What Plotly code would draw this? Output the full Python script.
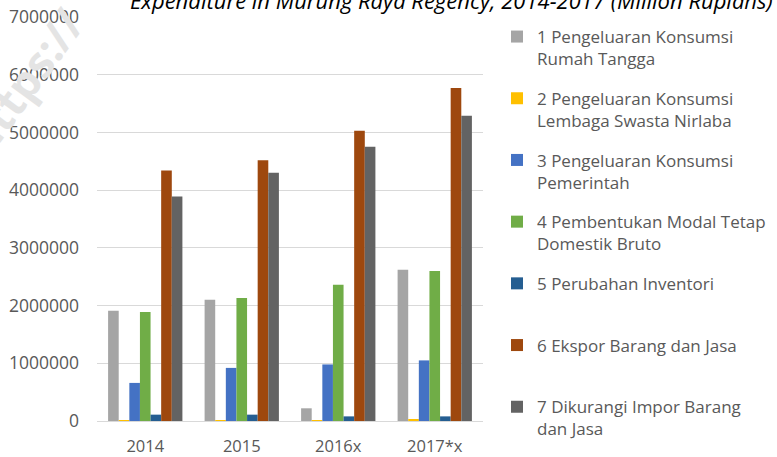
import plotly.graph_objects as go

categories = ["2014", "2015", "2016x", "2017*x"]

series_names = [
    "1 Pengeluaran Konsumsi<br>Rumah Tangga",
    "2 Pengeluaran Konsumsi<br>Lembaga Swasta Nirlaba",
    "3 Pengeluaran Konsumsi<br>Pemerintah",
    "4 Pembentukan Modal Tetap<br>Domestik Bruto",
    "5 Perubahan Inventori<br> ",
    "6 Ekspor Barang dan Jasa<br> ",
    "7 Dikurangi Impor Barang<br>dan Jasa",
]

s1_konsumsi_rt = [1910000, 2100000, 220000, 2620000]
s2_lnprt = [15000, 16000, 17000, 18000]
s3_pemerintah = [660000, 920000, 980000, 1050000]
s4_pmtb = [1890000, 2130000, 2360000, 2600000]
s5_inventori = [110000, 110000, 80000, 80000]
s6_ekspor = [4340000, 4520000, 5030000, 5770000]
s7_impor = [3890000, 4300000, 4750000, 5290000]

series_values = [s1_konsumsi_rt, s2_lnprt, s3_pemerintah, s4_pmtb,
                 s5_inventori, s6_ekspor, s7_impor]
colors = ["#a5a5a5", "#ffc000", "#4472c4", "#70ad47", "#255e91", "#9e480e", "#636363"]

y_ticks = [0, 1000000, 2000000, 3000000, 4000000, 5000000, 6000000, 7000000]

fig = go.Figure()
for i, (name, vals, col) in enumerate(zip(series_names, series_values, colors)):
    fig.add_trace(go.Bar(x=categories, y=vals, name=name, marker_color=col,
                         marker_line_width=0, legendgroup=f"g{i}"))

font_family = "Open Sans"
fig.update_layout(
    width=777, height=457,
    margin=dict(l=97, r=294, t=17, b=36, autoexpand=False),
    plot_bgcolor="white", paper_bgcolor="white",
    barmode="group", bargap=0.23, bargroupgap=0,
    font=dict(family=font_family, color="#595959", size=16),
    xaxis=dict(showline=True, linecolor="#d9d9d9", linewidth=1, ticks="",
               tickfont=dict(size=16.5, color="#595959"), ticklabelstandoff=10,
               showgrid=False, automargin=False),
    yaxis=dict(range=[0, 7000000], tickvals=y_ticks, tickformat="d",
               gridcolor="#d9d9d9", gridwidth=1, zeroline=False, showline=False,
               tickfont=dict(size=17.5, color="#595959"), ticklabelstandoff=17,
               automargin=False),
    legend=dict(x=(497 - 97) / 386, xanchor="left", y=1 - (19 - 17) / 404, yanchor="top",
                font=dict(size=17, color="#595959"), tracegroupgap=14.5,
                valign="top", bgcolor="rgba(0,0,0,0)", maxheight=1000),
    showlegend=True,
    annotations=[
        dict(text="<i>Expenditure in Murung Raya Regency, 2014-2017 (Million Rupiahs)</i>",
             xref="paper", yref="paper", x=(451 - 97) / 386, y=1 + 17 / 404,
             xanchor="center", yanchor="middle", showarrow=False,
             font=dict(size=22, color="#000000", family=font_family)),
        dict(text="<b>https://</b>", xref="paper", yref="paper",
             x=(24 - 97) / 386, y=1 + (17 - 81) / 404, xanchor="center", yanchor="middle",
             showarrow=False, textangle=-54,
             font=dict(size=44, color="#e4e4e4", family=font_family)),
    ],
)

fig.write_html(
    "out.html",
    config={"displayModeBar": False},
    post_script="document.body.style.margin='0';document.body.style.overflow='hidden';",
)
